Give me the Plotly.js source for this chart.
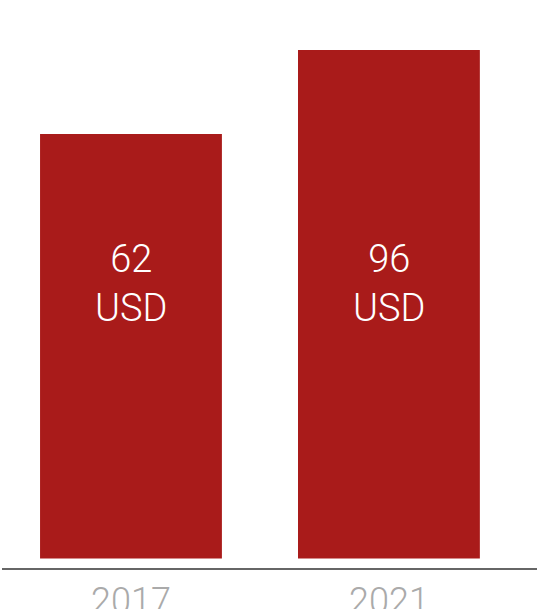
<!DOCTYPE html>
<html>
<head>
<meta charset="utf-8">
<script src="https://cdn.plot.ly/plotly-3.0.1.min.js"></script>
<style>html,body{margin:0;padding:0;background:#fff;}#chart{width:537px;height:609px;}</style>
</head>
<body>
<div id="chart"></div>
<script>
const years = ['2017', '2021'];
const values = [62, 96];
const unit = 'USD';

const barBase = -110;
const trace = {
  type: 'bar',
  x: years,
  y: values.map(v => v - barBase),
  base: barBase,
  marker: {color: '#a91b1a'},
  hoverinfo: 'skip'
};

const annotations = years.map((yr, i) => ({
  x: i, xref: 'x',
  y: 0.501, yref: 'paper',
  text: values[i] + '<br>' + unit,
  showarrow: false,
  font: {family: 'Roboto', size: 38, color: '#ffffff', weight: 300},
  xanchor: 'center', yanchor: 'middle', align: 'center'
}));

const layout = {
  width: 537, height: 609,
  margin: {l: 2, r: 0, t: 0, b: 41},
  paper_bgcolor: '#ffffff', plot_bgcolor: '#ffffff',
  showlegend: false,
  bargap: 0.295,
  xaxis: {
    type: 'category',
    range: [-0.5, 1.574],
    showline: true, linecolor: '#666666', linewidth: 2,
    showgrid: false, zeroline: false, ticks: '',
    tickfont: {family: 'Roboto', size: 36, color: '#aaaaaa', weight: 300},
    fixedrange: true
  },
  yaxis: {
    range: [-113.8, 116.3],
    visible: false, showgrid: false, zeroline: false, fixedrange: true
  },
  annotations: annotations
};

Plotly.newPlot('chart', [trace], layout, {displayModeBar: false, staticPlot: true});
</script>
</body>
</html>
